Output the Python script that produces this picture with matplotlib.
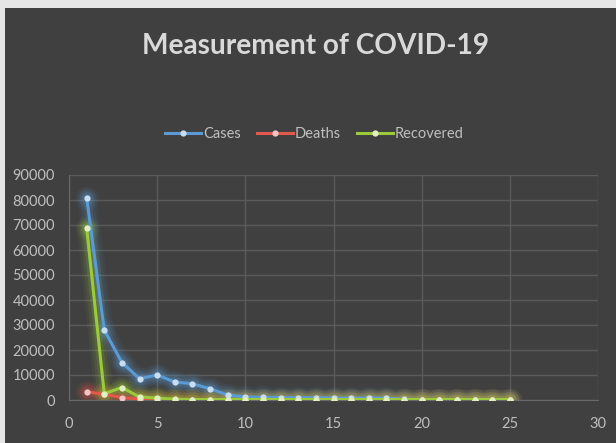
import numpy as np
import matplotlib.pyplot as plt
from matplotlib.patches import Rectangle

days = list(range(1, 26))
cases = [81000, 28000, 15000, 8500, 10000, 7200, 6500, 4500, 2000, 1200,
         1100, 1000, 900, 900, 800, 700, 800, 700, 300, 200,
         200, 150, 150, 100, 100]
deaths = [3300, 2300, 1000, 300, 200, 100, 100, 100, 100, 50,
          50, 50, 50, 50, 50, 50, 50, 50, 50, 50,
          50, 50, 50, 50, 50]
recovered = [69000, 2500, 5000, 1200, 800, 300, 200, 200, 200, 200,
             200, 200, 200, 200, 200, 200, 200, 200, 200, 200,
             200, 200, 200, 200, 200]

series = [
    ("Cases", cases, "#5B9BD5", "#C9DDF0"),
    ("Deaths", deaths, "#E2584A", "#F2C4C3"),
    ("Recovered", recovered, "#9BCB3B", "#E0F0C0"),
]

bg = "#404040"
txt = "#BFBFBF"
fnt = ["Lato", "DejaVu Sans"]

fig = plt.figure(figsize=(6.16, 4.43), dpi=100, facecolor=bg)
# light strips on the top and left border of the screenshot
fig.patches.append(Rectangle((0, 1 - 8 / 443), 1, 8 / 443, transform=fig.transFigure,
                             facecolor="#E6E6E6", edgecolor="none", zorder=5))
fig.patches.append(Rectangle((0, 0), 5 / 616, 1, transform=fig.transFigure,
                             facecolor="#E6E6E6", edgecolor="none", zorder=5))

ax = fig.add_axes([69 / 616, 43 / 443, 529 / 616, 225 / 443])
ax.set_facecolor(bg)

for name, vals, col, mcol in series:
    # soft glow underneath
    for lw, a in [(14, 0.06), (10, 0.09), (6, 0.14)]:
        ax.plot(days, vals, color=col, lw=lw, alpha=a, solid_capstyle="round",
                marker="o", markersize=lw + 3, markeredgewidth=0, zorder=2)
for name, vals, col, mcol in series:
    ax.plot(days, vals, color=col, lw=2.2, marker="o", markersize=4.5,
            markerfacecolor=mcol, markeredgewidth=0, label=name, zorder=3)

ax.set_xlim(0, 30)
ax.set_ylim(0, 90000)
ax.set_xticks(range(0, 31, 5))
ax.set_yticks(range(0, 90001, 10000))
ax.grid(True, color="#5A5A5A", lw=1)
ax.set_axisbelow(True)
for s in ["top", "right"]:
    ax.spines[s].set_visible(False)
for s in ["left", "bottom"]:
    ax.spines[s].set_color("#6A6A6A")
ax.tick_params(length=0, colors=txt, labelsize=10.5, pad=10)
for lab in ax.get_xticklabels() + ax.get_yticklabels():
    lab.set_family(fnt)
ax.tick_params(axis="x", pad=12)

fig.text(0.512, 0.897, "Measurement of COVID-19", ha="center", va="center",
         color="#D9D9D9", fontsize=20.2, fontweight="bold", family=fnt)

leg = fig.legend(loc="center", bbox_to_anchor=(0.51, 0.697), ncol=3, frameon=False,
                 handlelength=2.5, columnspacing=1.1, handletextpad=0.1,
                 prop={"family": fnt, "size": 10.5})
for t in leg.get_texts():
    t.set_color(txt)

fig.savefig("out.png", dpi=100, facecolor=fig.get_facecolor())
